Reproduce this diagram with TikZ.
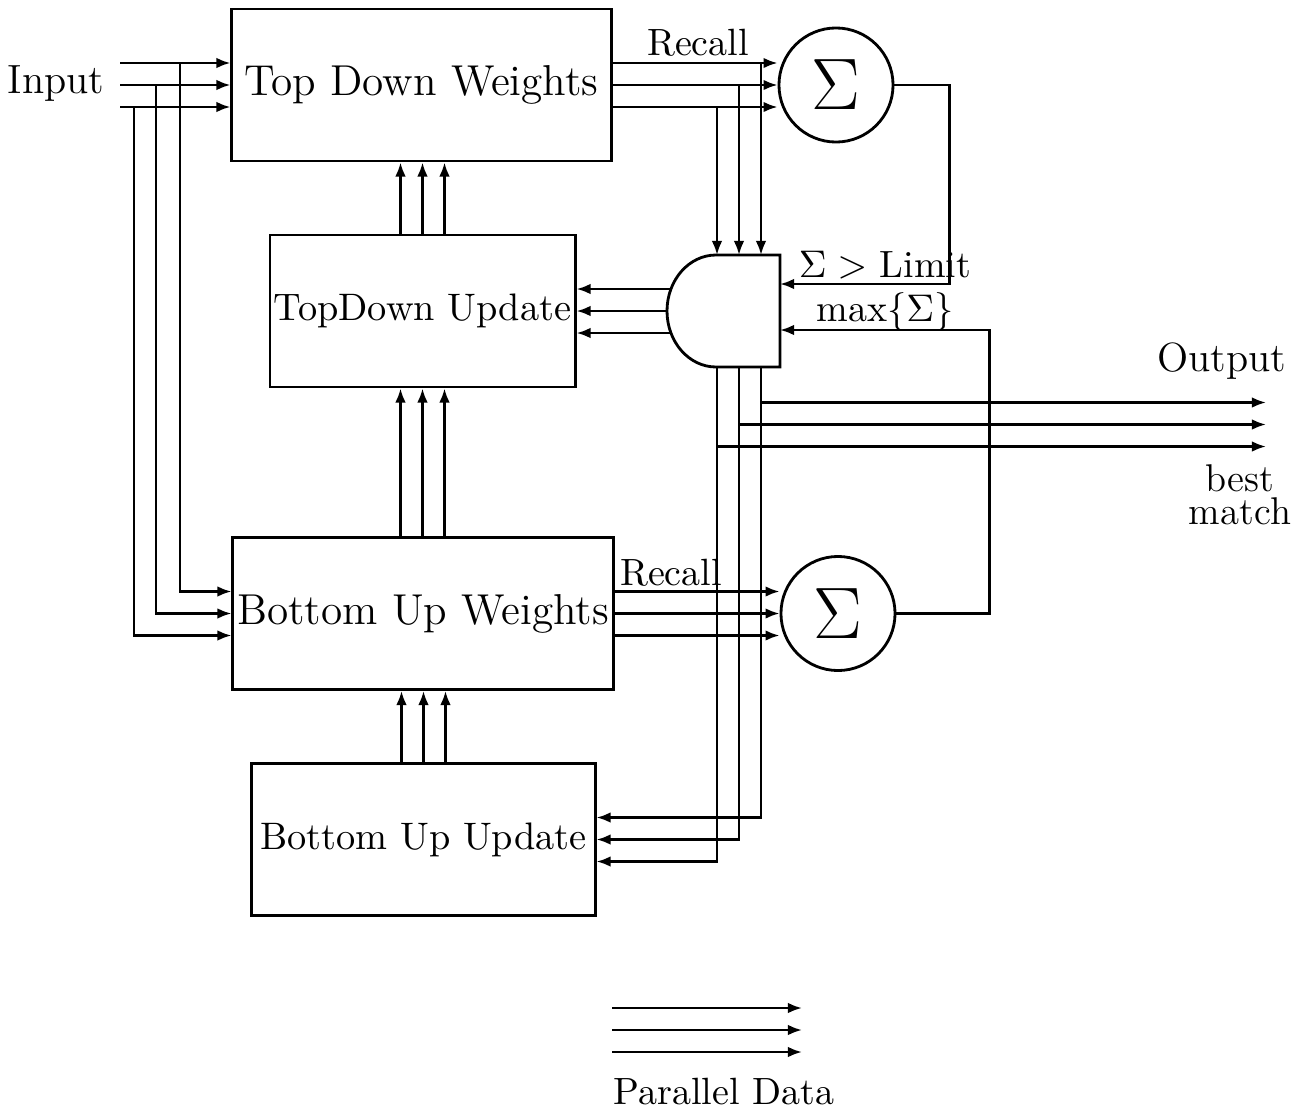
\documentclass[tikz,border=0pt]{standalone}
\usepackage{tikz}
\usetikzlibrary{
  arrows.meta,
  positioning,
  calc
}
\tikzset{
  wbox/.style={draw, line width=0.8pt, minimum height=1.52cm, inner xsep=1pt,
    align=center, font=\fontsize{12.3}{14}\selectfont},
  ubox/.style={draw, line width=0.8pt, minimum height=1.52cm, inner xsep=1pt,
    align=center, font=\fontsize{10.9}{12}\selectfont},
  sumnode/.style={draw, circle, line width=0.8pt, minimum size=1.14cm,
    inner sep=0pt, font=\fontsize{20.4}{22}\selectfont},
  gatebox/.style={draw, line width=0.8pt, fill=white},
  lbl/.style={font=\fontsize{10.8}{12}\selectfont, inner sep=1pt},
  biglbl/.style={font=\fontsize{11.6}{14}\selectfont, inner sep=1pt},
  arr/.style={-{Latex[length=4pt,width=3pt]}, line width=0.7pt},
}

\begin{document}
\begin{tikzpicture}[x=0.01cm, y=-0.01cm]
  \useasboundingbox (0,0) rectangle (1300,1112);

  % Weight blocks
  \node[wbox, minimum width=3.79cm] (tdw) at (421.5,85) {Top Down Weights};
  \node[wbox, minimum width=3.80cm] (buw) at (423,613.5) {Bottom Up Weights};

  % Update blocks
  \node[ubox, minimum width=3.05cm] (tdu) at (422.5,311) {TopDown Update};
  \node[ubox, minimum width=3.43cm] (buu) at (423.5,839.5) {Bottom Up Update};

  % Summation nodes
  \node[sumnode] (sum1) at (836,85) {$\Sigma$};
  \node[sumnode] (sum2) at (838,613.5) {$\Sigma$};

  % Fixed points
  \coordinate (in) at (120,85);
  \coordinate (out) at (1266,424.5);
  \coordinate (gtop) at (739,255);
  \coordinate (gbot) at (739,367);
  \coordinate (glim) at (780,284);
  \coordinate (gmax) at (780,330);
  \coordinate (pd) at (612,1030);
  \coordinate (pdend) at (802,1030);

  % Input into both weight blocks
  \foreach \d in {-22,0,22}
    \draw[arr] ($(in)+(0,\d)$) -- ($(tdw.west)+(0,\d)$);
  \foreach \x/\d in {60/-22,36/0,14/22}
    \draw[arr] ($(in)+(\x,\d)$) |- ($(buw.west)+(0,\d)$);

  % Recall into the sums
  \foreach \d in {-22,0,22} {
    \draw[arr] ($(tdw.east)+(0,\d)$) -- ($(sum1.west |- tdw.east)+(0,\d)$);
    \draw[arr] ($(buw.east)+(0,\d)$) -- ($(sum2.west |- buw.east)+(0,\d)$);
  }

  % Updates into weights
  \foreach \d in {-22,0,22} {
    \draw[arr] ($(tdu.north)+(\d,0)$) -- ($(tdu.north |- tdw.south)+(\d,0)$);
    \draw[arr] ($(buw.north -| tdu.north)+(\d,0)$) -- ($(tdu.south)+(\d,0)$);
    \draw[arr] ($(buu.north)+(\d,0)$) -- ($(buu.north |- buw.south)+(\d,0)$);
  }

  % Gate in and out
  \foreach \d/\e in {-22/22,0/0,22/-22} {
    \draw[arr] ($(gtop |- tdw.east)+(\e,\d)$) -- ($(gtop)+(\e,0)$);
    \draw[arr] ($(gbot)+(\e,0)$) |- ($(buu.east)+(0,\d)$);
    \draw[arr] ($(gbot |- out)+(\e,\d)$) -- ($(out)+(0,\d)$);
  }
  \foreach \d in {-22,0,22}
    \draw[arr] ($(tdu.east -| gtop)+(0,\d)$) -- ($(tdu.east)+(0,\d)$);
  \draw[arr] (sum1.east) -- ++(55,0) |- (glim);
  \draw[arr] (sum2.east) -- ++(93,0) |- (gmax);

  % Gate
  \draw[gatebox] (716,255) -- (780,255) -- (780,367) -- (716,367)
    .. controls (689,367) and (667,342) .. (667,311)
    .. controls (667,280) and (689,255) .. (716,255) -- cycle;

  % Legend
  \foreach \d in {-22,0,22}
    \draw[arr] ($(pd)+(0,\d)$) -- ($(pdend)+(0,\d)$);

  % Labels
  \node[biglbl] (inlbl) at (56,84) {Input};
  \node[biglbl] (outlbl) at (1222,361) {Output};
  \node[align=center, font=\fontsize{11}{9.5}\selectfont] (bmlbl) at (1240,495) {best\\match};
  \node[lbl] (rc1) at (698,43) {Recall};
  \node[lbl] (rc2) at (671,573) {Recall};
  \node[lbl] (limlbl) at (885,265) {$\Sigma >$ Limit};
  \node[lbl] (maxlbl) at (885,312) {max$\{\Sigma\}$};
  \node[lbl] (pdlbl) at (724,1092) {Parallel Data};
\end{tikzpicture}
\end{document}
